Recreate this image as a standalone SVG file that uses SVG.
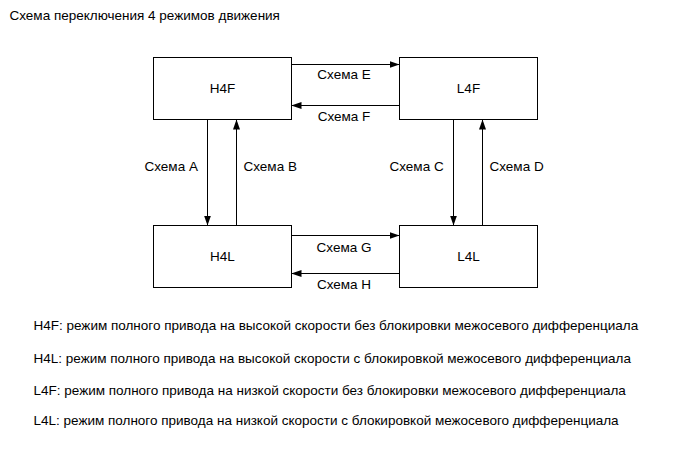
<svg xmlns="http://www.w3.org/2000/svg" width="690" height="465" viewBox="0 0 690 465">
<style>
text{font-family:"Liberation Sans",Arial,sans-serif;font-size:13.5px;fill:#000}
.box{fill:#fff;stroke:#000;stroke-width:1}
.c{text-anchor:middle}
.conn line{stroke:#000;stroke-width:1}
</style>
<defs>
<marker id="ah" markerWidth="10" markerHeight="7" refX="10" refY="3.5" orient="auto" markerUnits="userSpaceOnUse">
<path d="M0,0 L10,3.5 L0,7 Z" fill="#000"/>
</marker>
</defs>
<rect width="690" height="465" fill="#fff"/>
<text x="9.5" y="20">Схема переключения 4 режимов движения</text>
<g id="H4F"><rect class="box" x="153.5" y="57.5" width="138" height="62"/><text class="c" x="222.5" y="93">H4F</text></g>
<g id="L4F"><rect class="box" x="399.5" y="57.5" width="138" height="62"/><text class="c" x="468.5" y="93">L4F</text></g>
<g id="H4L"><rect class="box" x="153.5" y="225.5" width="138" height="62"/><text class="c" x="222.5" y="261">H4L</text></g>
<g id="L4L"><rect class="box" x="399.5" y="225.5" width="138" height="62"/><text class="c" x="468.5" y="261">L4L</text></g>
<g id="connectors" class="conn">
<line x1="291.5" y1="64.5" x2="399.5" y2="64.5" marker-end="url(#ah)"/>
<line x1="399.5" y1="105.5" x2="291.5" y2="105.5" marker-end="url(#ah)"/>
<line x1="291.5" y1="235.5" x2="399.5" y2="235.5" marker-end="url(#ah)"/>
<line x1="399.5" y1="273.5" x2="291.5" y2="273.5" marker-end="url(#ah)"/>
<line x1="207.5" y1="119.5" x2="207.5" y2="225.5" marker-end="url(#ah)"/>
<line x1="236.5" y1="225.5" x2="236.5" y2="119.5" marker-end="url(#ah)"/>
<line x1="453.5" y1="119.5" x2="453.5" y2="225.5" marker-end="url(#ah)"/>
<line x1="482.5" y1="225.5" x2="482.5" y2="119.5" marker-end="url(#ah)"/>
<text class="c" x="344" y="79">Схема E</text>
<text class="c" x="344" y="121">Схема F</text>
<text class="c" x="344" y="252">Схема G</text>
<text class="c" x="344" y="289">Схема H</text>
<text x="144.5" y="171">Схема A</text>
<text x="243.5" y="171">Схема B</text>
<text x="389.5" y="171">Схема C</text>
<text x="489.5" y="171">Схема D</text>
</g>
<text x="33.5" y="330">H4F: режим полного привода на высокой скорости без блокировки межосевого дифференциала</text>
<text x="33.5" y="363">H4L: режим полного привода на высокой скорости с блокировкой межосевого дифференциала</text>
<text x="33.5" y="395">L4F: режим полного привода на низкой скорости без блокировки межосевого дифференциала</text>
<text x="33.5" y="425">L4L: режим полного привода на низкой скорости с блокировкой межосевого дифференциала</text>
</svg>
